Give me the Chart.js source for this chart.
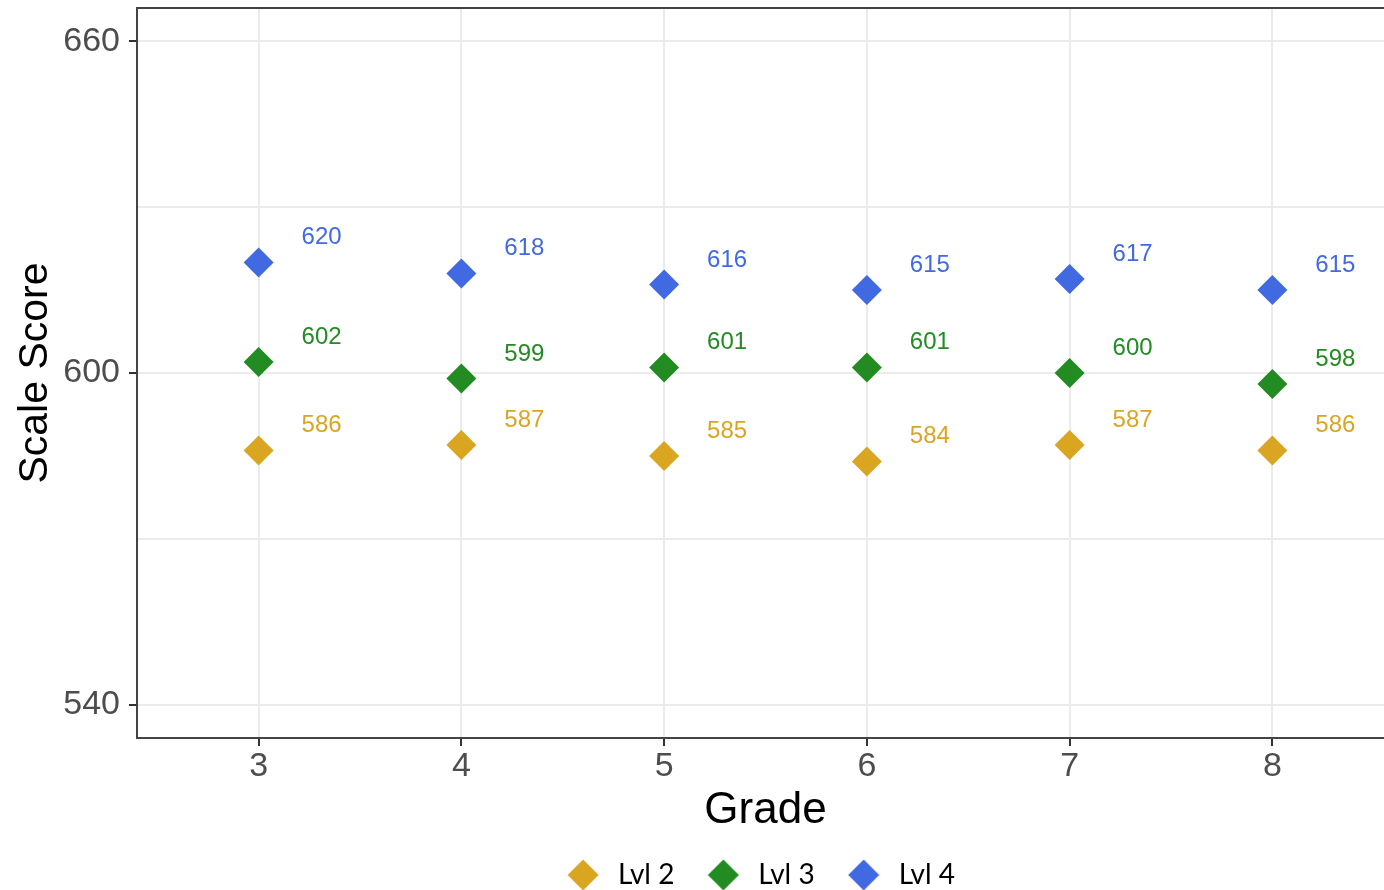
<!DOCTYPE html>
<html>
<head>
<meta charset="utf-8">
<title>Scale Score by Grade</title>
<script src="https://cdn.jsdelivr.net/npm/chart.js@4.4.1/dist/chart.umd.min.js"></script>
<style>
  html, body { margin: 0; padding: 0; background: #fff; overflow: hidden; }
  #wrap { width: 1394px; height: 899px; }
</style>
</head>
<body>
<div id="wrap"><canvas id="chart" width="1394" height="899"></canvas></div>
<script>
// data
const grades = [3, 4, 5, 6, 7, 8];
const levelNames = ['Lvl 2', 'Lvl 3', 'Lvl 4'];
const lvl2Scores = [586, 587, 585, 584, 587, 586];
const lvl3Scores = [602, 599, 601, 601, 600, 598];
const lvl4Scores = [620, 618, 616, 615, 617, 615];
const levelColors = ['#DAA520', '#228B22', '#4169E1'];
const yTickValues = [540, 570, 600, 630, 660];
const yMajorTicks = [540, 600, 660];

const FONT = '"Liberation Sans", Arial, sans-serif';

const toPoints = vals => vals.map((v, i) => ({ x: grades[i], y: v }));

const datasets = [lvl2Scores, lvl3Scores, lvl4Scores].map((vals, i) => ({
  label: levelNames[i],
  data: toPoints(vals),
  pointStyle: 'rectRot',
  pointRadius: 15,
  pointHoverRadius: 15,
  backgroundColor: levelColors[i],
  borderColor: levelColors[i],
  pointBorderWidth: 0,
  showLine: false
}));

// small diamond images for the legend, so the box can be wider than the marker
function diamondImage(color) {
  const c = document.createElement('canvas');
  c.width = 32;
  c.height = 32;
  const g = c.getContext('2d');
  g.fillStyle = color;
  g.beginPath();
  g.moveTo(0.5, 16);
  g.lineTo(16, 0.5);
  g.lineTo(31.5, 16);
  g.lineTo(16, 31.5);
  g.closePath();
  g.fill();
  return c;
}
const legendMarkers = levelColors.map(diamondImage);

// value labels up and to the right of each diamond
const valueLabels = {
  id: 'valueLabels',
  afterDatasetsDraw(chart) {
    const ctx = chart.ctx;
    ctx.save();
    ctx.font = '24px ' + FONT;
    ctx.textAlign = 'center';
    ctx.textBaseline = 'alphabetic';
    chart.data.datasets.forEach((ds, i) => {
      ctx.fillStyle = levelColors[i];
      chart.getDatasetMeta(i).data.forEach((pt, j) => {
        ctx.fillText(String(ds.data[j].y), pt.x + 63, pt.y - 18);
      });
    });
    ctx.restore();
  }
};

// top edge of the panel border
const topBorder = {
  id: 'topBorder',
  afterDraw(chart) {
    const { ctx, chartArea } = chart;
    ctx.save();
    ctx.strokeStyle = '#444';
    ctx.lineWidth = 2;
    ctx.beginPath();
    ctx.moveTo(chartArea.left - 1, chartArea.top);
    ctx.lineTo(chartArea.right, chartArea.top);
    ctx.stroke();
    ctx.restore();
  }
};

// nudge the centred legend a little to the left
const legendShift = {
  id: 'legendShift',
  afterLayout(chart) {
    if (chart.legend) chart.legend.left -= 14;
  }
};

new Chart(document.getElementById('chart'), {
  type: 'scatter',
  data: { datasets },
  plugins: [valueLabels, topBorder, legendShift],
  options: {
    responsive: false,
    animation: false,
    layout: { autoPadding: false, padding: { top: 8, left: 0, right: 0, bottom: 0 } },
    plugins: {
      tooltip: { enabled: false },
      legend: {
        position: 'bottom',
        fullSize: false,
        labels: {
          usePointStyle: true,
          pointStyleWidth: 42,
          boxHeight: 22,
          padding: 28,
          color: '#000',
          font: { family: 'Lato', size: 28 },
          generateLabels: chart => Chart.defaults.plugins.legend.labels.generateLabels(chart)
            .map((item, i) => Object.assign(item, { pointStyle: legendMarkers[i] }))
        }
      }
    },
    scales: {
      x: {
        type: 'linear',
        min: 2.4,
        max: 8.6,
        afterBuildTicks: s => { s.ticks = grades.map(v => ({ value: v })); },
        afterFit: s => { s.height = 95; },
        grid: { color: '#EBEBEB', lineWidth: 2, tickLength: 8, tickColor: '#333', tickWidth: 2 },
        border: { display: true, color: '#444', width: 2 },
        ticks: { color: '#4D4D4D', font: { family: FONT, size: 34 }, padding: 0, autoSkip: false, maxRotation: 0 },
        title: { display: true, text: 'Grade', color: '#000', font: { family: FONT, size: 44 }, padding: { top: 0, bottom: -4 } }
      },
      y: {
        type: 'linear',
        min: 534,
        max: 666,
        afterBuildTicks: s => { s.ticks = yTickValues.map(v => ({ value: v })); },
        afterFit: s => { s.width = 137; s.paddingTop = 0; s.paddingBottom = 0; },
        grid: {
          color: '#EBEBEB',
          lineWidth: 2,
          tickLength: 8,
          tickWidth: 2,
          tickColor: c => yMajorTicks.includes(c.tick && c.tick.value) ? '#333' : 'rgba(0,0,0,0)'
        },
        border: { display: true, color: '#444', width: 2 },
        ticks: {
          color: '#4D4D4D',
          font: { family: FONT, size: 34 },
          padding: 9,
          autoSkip: false,
          callback: v => yMajorTicks.includes(v) ? String(v) : ''
        },
        title: { display: true, text: 'Scale Score', color: '#000', font: { family: FONT, size: 41 }, padding: { top: 11, bottom: 0 } }
      }
    }
  }
});
</script>
</body>
</html>
